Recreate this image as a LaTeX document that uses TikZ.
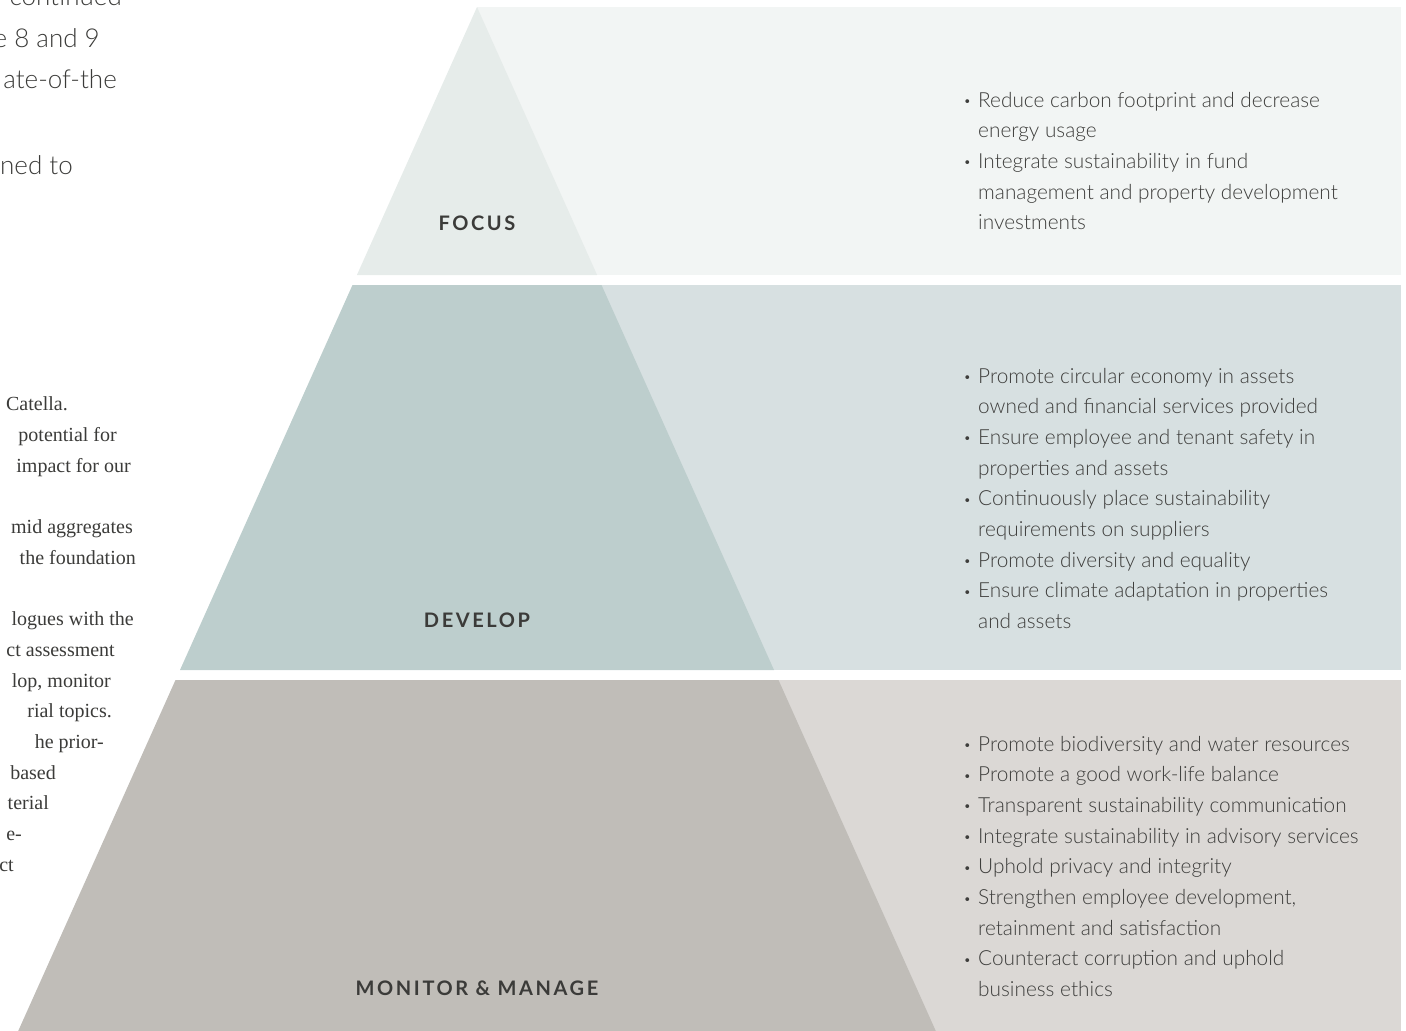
\documentclass[tikz,border=0pt]{standalone}
\usepackage{fontspec}
\setmainfont{Lato}
\newfontfamily\bodyfont{Lato Light}
\newfontfamily\tierfont{Lato}[LetterSpace=13]
\newfontfamily\pageserif{Liberation Serif}
\usetikzlibrary{positioning}

\definecolor{focusdark}{HTML}{E6ECEA}
\definecolor{focuslight}{HTML}{F2F5F4}
\definecolor{developdark}{HTML}{BDCECD}
\definecolor{developlight}{HTML}{D7E0E1}
\definecolor{monitordark}{HTML}{C0BDB8}
\definecolor{monitorlight}{HTML}{DBD8D5}
\definecolor{inkgrey}{HTML}{3B3B39}
\definecolor{goalgrey}{HTML}{3E3E3C}

\newcommand{\goalbullet}{\makebox[0pt][r]{\raisebox{1.5pt}{\fontsize{13}{13}\selectfont\textbullet}\hspace{7pt}}}

\tikzset{
    tier/.style={font=\tierfont\bfseries\fontsize{20}{20}\selectfont, text=inkgrey, anchor=base, inner sep=0pt},
    goal/.style={font=\bodyfont\fontsize{20.8}{20.8}\selectfont, text=goalgrey, anchor=base west, inner sep=0pt},
    pagesans/.style={font=\bodyfont\fontsize{26}{26}\selectfont, text=inkgrey, anchor=base east, inner sep=0pt},
    pagetext/.style={font=\pageserif\fontsize{20}{20}\selectfont, text=inkgrey, anchor=base east, inner sep=0pt}
}

\begin{document}
\begin{tikzpicture}[x=1pt, y=-1pt]
    \useasboundingbox (0,0) rectangle (1406,1031);

    % Light bands behind the goals
    \fill[focuslight] (477,7) rectangle (1401,275);
    \fill[developlight] (477,285) rectangle (1401,670);
    \fill[monitorlight] (477,680) rectangle (1401,1031);

    % Pyramid tiers
    \fill[focusdark] (477,7) -- (597.1,275) -- (356.9,275) -- cycle;
    \fill[developdark] (352.5,285) -- (601.5,285) -- (774,670) -- (180,670) -- cycle;
    \fill[monitordark] (175.5,680) -- (778.5,680) -- (935.8,1031) -- (18.2,1031) -- cycle;

    % Tier labels
    \node[tier] (focus) at (477,230) {FOCUS};
    \node[tier] (develop) at (477,627) {DEVELOP};
    \node[tier] (monitor) at (477,995) {MONITOR \& MANAGE};

    % Goals per tier (1 = new bullet, 0 = continued line)
    \foreach \b/\t [count=\i] in {
        1/Reduce carbon footprint and decrease,
        0/energy usage,
        1/Integrate sustainability in fund,
        0/management and property development,
        0/investments}
        \node[goal] (fg\i) at (978,{107+30.7*(\i-1)}) {\ifnum\b=1 \goalbullet\fi\t};

    \foreach \b/\t [count=\i] in {
        1/Promote circular economy in assets,
        0/owned and financial services provided,
        1/Ensure employee and tenant safety in,
        0/properties and assets,
        1/Continuously place sustainability,
        0/requirements on suppliers,
        1/Promote diversity and equality,
        1/Ensure climate adaptation in properties,
        0/and assets}
        \node[goal] (dg\i) at (978,{383+30.7*(\i-1)}) {\ifnum\b=1 \goalbullet\fi\t};

    \foreach \b/\t [count=\i] in {
        1/Promote biodiversity and water resources,
        1/Promote a good work-life balance,
        1/Transparent sustainability communication,
        1/Integrate sustainability in advisory services,
        1/Uphold privacy and integrity,
        {1/Strengthen employee development,},
        0/retainment and satisfaction,
        1/Counteract corruption and uphold,
        0/business ethics}
        \node[goal] (mg\i) at (978,{751+30.7*(\i-1)}) {\ifnum\b=1 \goalbullet\fi\t};

    % Page text cut off at the left edge
    \node[pagesans] (p1) at (122,5) {continued};
    \node[pagesans] (p2) at (100,47) {e 8 and 9};
    \node[pagesans] (p3) at (117,88) {ate-of-the};
    \node[pagesans] (p4) at (73,174) {ned to};

    \node[pagetext] (s1) at (68,410) {Catella.};
    \node[pagetext] (s2) at (117,441) {potential for};
    \node[pagetext] (s3) at (131,472) {impact for our};
    \node[pagetext] (s4) at (133,533) {mid aggregates};
    \node[pagetext] (s5) at (136,564) {the foundation};
    \node[pagetext] (s6) at (134,625) {logues with the};
    \node[pagetext] (s7) at (115,656) {ct assessment};
    \node[pagetext] (s8) at (111,687) {lop, monitor};
    \node[pagetext] (s9) at (112,717) {rial topics.};
    \node[pagetext] (s10) at (104,748) {he prior-};
    \node[pagetext] (s11) at (56,779) {based};
    \node[pagetext] (s12) at (49,809) {terial};
    \node[pagetext] (s13) at (22,840) {e-};
    \node[pagetext] (s14) at (14,871) {ct};

\end{tikzpicture}
\end{document}
